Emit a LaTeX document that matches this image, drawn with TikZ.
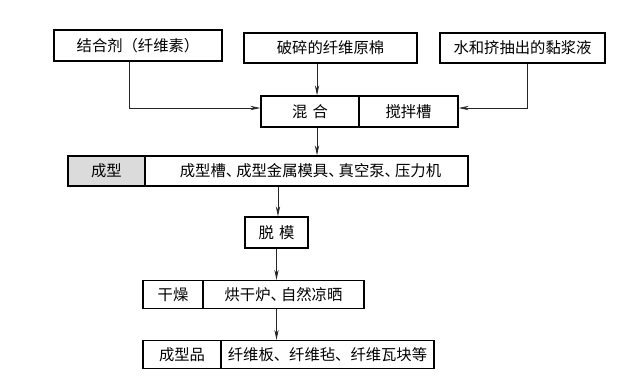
\documentclass[tikz,border=0pt]{standalone}
\usepackage{fontspec}
\newfontfamily\cjk{Noto Sans CJK SC}
\usetikzlibrary{arrows.meta}
\newcommand{\dunhao}{\makebox[0.68em][l]{、}}
\tikzset{
  cell/.style={draw=black, line width=1pt, inner sep=0pt, font=\cjk\fontsize{11.5}{13}\selectfont, text=black},
  shade/.style={fill=black!14},
  arr/.style={draw=black!85, line width=0.55pt, -{Stealth[length=7.5pt,width=3.2pt]}},
}
\begin{document}
\begin{tikzpicture}[x=0.75pt,y=-0.75pt]
\useasboundingbox[fill=white] (0,0) rectangle (633,378);
% top sources
\node[cell, minimum width=126pt, minimum height=23.25pt] (b1) at (138,45.5) {结合剂（纤维素）};
\node[cell, minimum width=129.75pt, minimum height=22.5pt] (b2) at (330.5,48) {破碎的纤维原棉};
\node[cell, minimum width=123.75pt, minimum height=22.5pt] (b3) at (522.5,48) {水和挤抽出的黏浆液};
% mixing
\node[cell, minimum width=73.5pt, minimum height=23.25pt] (mixL) at (310,111.5) {混\,\,合};
\node[cell, minimum width=74.25pt, minimum height=23.25pt] (mixR) at (408.5,111.5) {搅拌槽};
% forming
\node[cell, shade, minimum width=57.75pt, minimum height=22.5pt] (formL) at (106.5,171) {成型};
\node[cell, minimum width=242.25pt, minimum height=22.5pt] (formR) at (306.5,171) {\hspace*{6pt}成型槽\dunhao 成型金属模具\dunhao 真空泵\dunhao 压力机};
% demoulding
\node[cell, minimum width=47.25pt, minimum height=23.25pt] (demold) at (276.5,232.5) {脱\,\,模};
% drying
\node[cell, minimum width=45pt, minimum height=21pt] (dryL) at (173,294.5) {干燥};
\node[cell, minimum width=120.75pt, minimum height=21pt] (dryR) at (283.5,294.5) {烘干炉\dunhao 自然凉晒};
% product
\node[cell, minimum width=58.5pt, minimum height=21pt] (prodL) at (182,354.5) {成型品};
\node[cell, minimum width=159.75pt, minimum height=21pt] (prodR) at (327.5,354.5) {纤维板、纤维毡、纤维瓦块等};
% connectors
\draw[arr] ([xshift=-6.75pt]b1.south) |- ([yshift=2.6pt]mixL.west);
\draw[arr] ([xshift=-10.1pt]b2.south) -- ([xshift=-10.1pt]b2.south |- mixL.north);
\draw[arr] ([xshift=3.4pt]b3.south) |- ([yshift=2.6pt]mixR.east);
\draw[arr] ([xshift=5.25pt]mixL.south) -- ([xshift=5.25pt]mixL.south |- formR.north);
\draw[arr] ([xshift=1.1pt]demold.north |- formR.south) -- ([xshift=1.1pt]demold.north);
\draw[arr] (demold.south) -- (demold.south |- dryR.north);
\draw[arr] (dryR.south -| demold.south) -- (prodR.north -| demold.south);
\end{tikzpicture}
\end{document}
